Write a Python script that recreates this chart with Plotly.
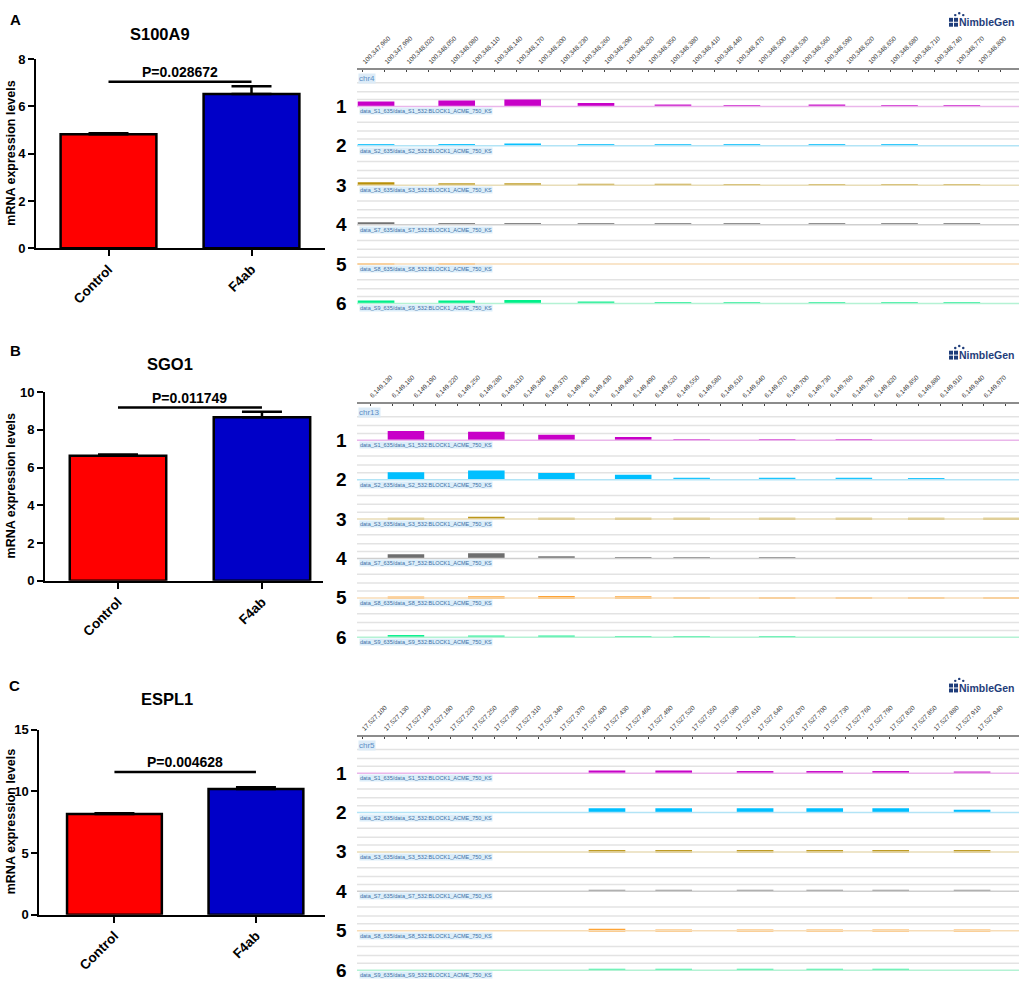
import plotly.graph_objects as go

W, H = 1021, 988
FONT = "Arial, Liberation Sans, sans-serif"

# ---------------- left: qPCR bar charts ----------------
groups = ["Control", "F4ab"]
genes = ["S100A9", "SGO1", "ESPL1"]
panel_letters = ["A", "B", "C"]
means = [[4.82, 6.53], [6.62, 8.66], [8.18, 10.20]]
sems = [[0.05, 0.33], [0.07, 0.30], [0.05, 0.14]]
p_texts = ["P=0.028672", "P=0.011749", "P=0.004628"]
p_line_y = [7.05, 9.18, 11.59]
y_max = [8, 10, 15]
y_dtick = [2, 2, 5]
bar_colors = ["#FF0000", "#0000C8"]

# ---------------- right: NimbleGen browser tracks ----------------
samples = ["S1", "S2", "S3", "S7", "S8", "S9"]
chroms = ["chr4", "chr13", "chr5"]
win_start = [100347952, 6149112, 17527093]
win_end = [100348855, 6150018, 17527996]
tick_start = [100347960, 6149130, 17527100]
block_len = 50

blocks_A = [100347953, 100348063, 100348153, 100348253, 100348358,
            100348452, 100348568, 100348667, 100348752]
signal_A = [
    [5.0, 6.0, 7.0, 3.5, 2.0, 1.3, 2.0, 1.3, 1.3],
    [1.5, 2.0, 2.5, 1.3, 1.0, 1.3, 1.3, 1.3, 0.0],
    [3.0, 2.0, 2.0, 1.5, 1.5, 1.0, 1.0, 1.0, 1.0],
    [2.5, 1.5, 1.5, 1.0, 1.0, 1.0, 1.0, 1.0, 1.0],
    [1.0, 1.0, 0.0, 0.0, 0.0, 0.0, 0.0, 0.0, 0.0],
    [3.0, 3.0, 3.5, 2.0, 1.5, 1.0, 1.0, 1.0, 1.0],
]

blocks_B = [6149154, 6149264, 6149360, 6149465, 6149545,
            6149662, 6149767, 6149866, 6149969]
signal_B = [
    [9.5, 8.7, 5.7, 3.3, 1.3, 1.3, 1.3, 0.0, 0.0],
    [7.7, 9.3, 6.7, 5.0, 2.0, 2.0, 2.0, 1.7, 0.0],
    [1.3, 2.3, 1.3, 1.3, 1.3, 1.3, 1.3, 1.3, 1.3],
    [4.3, 5.3, 2.3, 1.3, 1.0, 1.0, 0.0, 0.0, 0.0],
    [1.3, 1.7, 2.0, 1.7, 1.0, 1.0, 1.0, 1.0, 1.0],
    [2.3, 1.7, 1.7, 1.3, 1.3, 1.3, 0.0, 0.0, 0.0],
]

blocks_C = [17527409, 17527500, 17527611, 17527706, 17527796, 17527907]
signal_C = [
    [2.7, 2.7, 2.3, 2.3, 2.3, 1.7],
    [4.3, 4.3, 4.3, 4.3, 4.3, 3.0],
    [2.0, 2.0, 2.0, 2.0, 2.0, 2.0],
    [1.0, 1.0, 1.0, 1.0, 1.0, 1.0],
    [2.0, 1.3, 1.3, 1.3, 1.3, 1.3],
    [1.3, 1.3, 1.3, 1.3, 1.3, 0.0],
]
blocks = [blocks_A, blocks_B, blocks_C]
signals = [signal_A, signal_B, signal_C]

track_dark = ["#C800C8", "#00BFFF", "#B8900A", "#6E6E6E", "#FF9A1F", "#00F08A"]
track_light = ["#EAB6EA", "#B2E4F6", "#E8DDB8", "#CFCFCF", "#F7DDB8", "#B4F2D4"]

# panel boxes in pixels
bar_box = [(36, 325, 53, 245), (45, 323, 391, 582.7), (39.3, 325, 734, 921.7)]
bar_xrange = [(-0.507, 1.514), (-0.507, 1.424), (-0.531, 1.488)]
track_top = [64, 403, 741]
track_height = [256, 252, 247]
TRACK_GAP = 40
FIRST_TRACK = 37


def fx(px):
    return px / W


def fy(py):
    return 1 - py / H


def mix(c1, c2, f):
    a = [int(c1[i:i + 2], 16) for i in (1, 3, 5)]
    b = [int(c2[i:i + 2], 16) for i in (1, 3, 5)]
    return "rgb(%d,%d,%d)" % tuple(round(a[i] * (1 - f) + b[i] * f) for i in range(3))


fig = go.Figure()
annotations = []
shapes = []
layout_axes = {}

# ---- bar charts ----
for i in range(3):
    sfx = "" if i == 0 else str(i + 1)
    xa, ya = "x" + sfx, "y" + sfx
    fig.add_trace(go.Bar(
        x=[0, 1], y=means[i], width=0.67,
        marker=dict(color=bar_colors, line=dict(color="black", width=2.5)),
        error_y=dict(type="data", array=sems[i], arrayminus=[0, 0], symmetric=False,
                     color="black", thickness=2.5, width=20),
        xaxis=xa, yaxis=ya, showlegend=False, hoverinfo="skip"))
    fig.add_trace(go.Scatter(
        x=[0, 1], y=[p_line_y[i]] * 2, mode="lines",
        line=dict(color="black", width=2.5),
        xaxis=xa, yaxis=ya, showlegend=False, hoverinfo="skip"))

    x0, x1, y0, y1 = bar_box[i]
    layout_axes["xaxis" + sfx] = dict(
        domain=[fx(x0), fx(x1)], range=list(bar_xrange[i]), anchor=ya,
        tickvals=[0, 1], ticktext=groups, tickangle=-45,
        ticks="outside", ticklen=6, tickwidth=2, tickcolor="black",
        showline=True, linewidth=2, linecolor="black",
        showgrid=False, zeroline=False,
        tickfont=dict(family=FONT, size=13.5, color="black", weight="bold"))
    layout_axes["yaxis" + sfx] = dict(
        domain=[fy(y1), fy(y0)], range=[0, y_max[i]], dtick=y_dtick[i], anchor=xa,
        ticks="outside", ticklen=6, tickwidth=2, tickcolor="black",
        showline=True, linewidth=2, linecolor="black",
        showgrid=False, zeroline=False,
        tickfont=dict(family=FONT, size=13, color="black", weight="bold"))

    annotations.append(dict(
        x=0.5, y=p_line_y[i], xref=xa, yref=ya, text="<b>%s</b>" % p_texts[i],
        showarrow=False, xanchor="center", yanchor="bottom", yshift=0,
        font=dict(family=FONT, size=14, color="black")))
    annotations.append(dict(
        x=fx(11), y=fy((y0 + y1) / 2), xref="paper", yref="paper",
        text="<b>mRNA expression levels</b>", textangle=-90, showarrow=False,
        xanchor="center", yanchor="middle",
        font=dict(family=FONT, size=12.5, color="black")))

title_pos = [(160, 27), (170, 363), (167, 703)]
letter_pos = [(15, 13), (15, 349), (14, 689)]
for i in range(3):
    annotations.append(dict(
        x=fx(title_pos[i][0]), y=fy(title_pos[i][1]), xref="paper", yref="paper",
        text="<b>%s</b>" % genes[i], showarrow=False, xanchor="center", yanchor="middle",
        font=dict(family=FONT, size=16.5, color="black")))
    annotations.append(dict(
        x=fx(letter_pos[i][0]), y=fy(letter_pos[i][1]), xref="paper", yref="paper",
        text="<b>%s</b>" % panel_letters[i], showarrow=False,
        xanchor="center", yanchor="middle",
        font=dict(family=FONT, size=15, color="black")))

# ---- NimbleGen tracks ----
for p in range(3):
    k = p + 4
    xa, ya = "x%d" % k, "y%d" % k
    top, hgt = track_top[p], track_height[p]
    centers = [b + block_len / 2 for b in blocks[p]]

    annotations.append(dict(
        x=fx(358), y=-9, xref="paper", yref=ya, text=chroms[p], showarrow=False,
        xanchor="left", yanchor="middle", bgcolor="#DCEBF7", borderpad=0,
        font=dict(family=FONT, size=8, color="#5B8FC7")))

    for t, s in enumerate(samples):
        base = -(FIRST_TRACK + TRACK_GAP * t)
        for off in (24, 15, 7):
            shapes.append(dict(type="line", xref=xa + " domain", yref=ya,
                               x0=0, x1=1, y0=base + off, y1=base + off,
                               line=dict(color="#E3E3E3", width=1.5), layer="below"))
        fig.add_trace(go.Scatter(
            x=[win_start[p], win_end[p]], y=[base, base], mode="lines",
            line=dict(color=track_light[t], width=1.5),
            xaxis=xa, yaxis=ya, showlegend=False, hoverinfo="skip"))
        sig = signals[p][t]
        cols = [mix(track_light[t], track_dark[t], min(1.0, 0.45 + v / 5)) for v in sig]
        fig.add_trace(go.Bar(
            x=centers, y=sig, base=base, width=block_len,
            marker=dict(color=cols, line=dict(width=0)),
            xaxis=xa, yaxis=ya, showlegend=False, hoverinfo="skip"))

        annotations.append(dict(
            x=fx(359), y=base - 5, xref="paper", yref=ya,
            text="data_%s_635/data_%s_532:BLOCK1_ACME_750_KS" % (s, s),
            showarrow=False, xanchor="left", yanchor="middle",
            bgcolor="#DCEEFA", borderpad=0,
            font=dict(family=FONT, size=5.5, color="#3D6FA5")))
        annotations.append(dict(
            x=fx(341), y=base, xref="paper", yref=ya, text="<b>%d</b>" % (t + 1),
            showarrow=False, xanchor="center", yanchor="middle",
            font=dict(family=FONT, size=19, color="black")))

    layout_axes["xaxis%d" % k] = dict(
        domain=[fx(357), fx(1019)], range=[win_start[p], win_end[p]], anchor=ya,
        side="top", tick0=tick_start[p], dtick=30, tickformat=",d", tickangle=-45,
        ticks="inside", ticklen=2, tickcolor="#444444",
        showline=True, linewidth=2, linecolor="#8C8C8C",
        showgrid=False, zeroline=False,
        tickfont=dict(family=FONT, size=6.5, color="#3A3A3A"))
    layout_axes["yaxis%d" % k] = dict(
        domain=[fy(top + hgt), fy(top)], range=[-hgt, 0], anchor=xa, visible=False)

    # NimbleGen logo
    logo_y = [14, 352, 690][p]
    annotations.append(dict(
        x=fx(1016), y=fy(logo_y + 1), xref="paper", yref="paper", text="<b>NimbleGen</b>",
        showarrow=False, xanchor="right", yanchor="middle",
        font=dict(family=FONT, size=10.5, color="#1F3D7A")))
    for cx in range(2):
        for cy in range(2):
            lx = 949 + cx * 5
            ly = logo_y - 3 + cy * 5
            shapes.append(dict(type="rect", xref="paper", yref="paper",
                               x0=fx(lx), x1=fx(lx + 4), y0=fy(ly + 4), y1=fy(ly),
                               fillcolor="#1F3D7A", line=dict(width=0)))
    for dx, dy in ((954, -7), (958, -9), (962, -7)):
        shapes.append(dict(type="circle", xref="paper", yref="paper",
                           x0=fx(dx), x1=fx(dx + 2.5), y0=fy(logo_y + dy + 2.5), y1=fy(logo_y + dy),
                           fillcolor="#1F3D7A", line=dict(width=0)))

fig.update_layout(
    width=W, height=H, margin=dict(l=0, r=0, t=0, b=0),
    paper_bgcolor="white", plot_bgcolor="white",
    barmode="overlay", showlegend=False,
    annotations=annotations, shapes=shapes,
    font=dict(family=FONT),
    **layout_axes)

# drop the default page margin so the figure sits at the window origin
fig.write_html("out.html", config={"displayModeBar": False},
               post_script="document.body.style.margin='0';")
